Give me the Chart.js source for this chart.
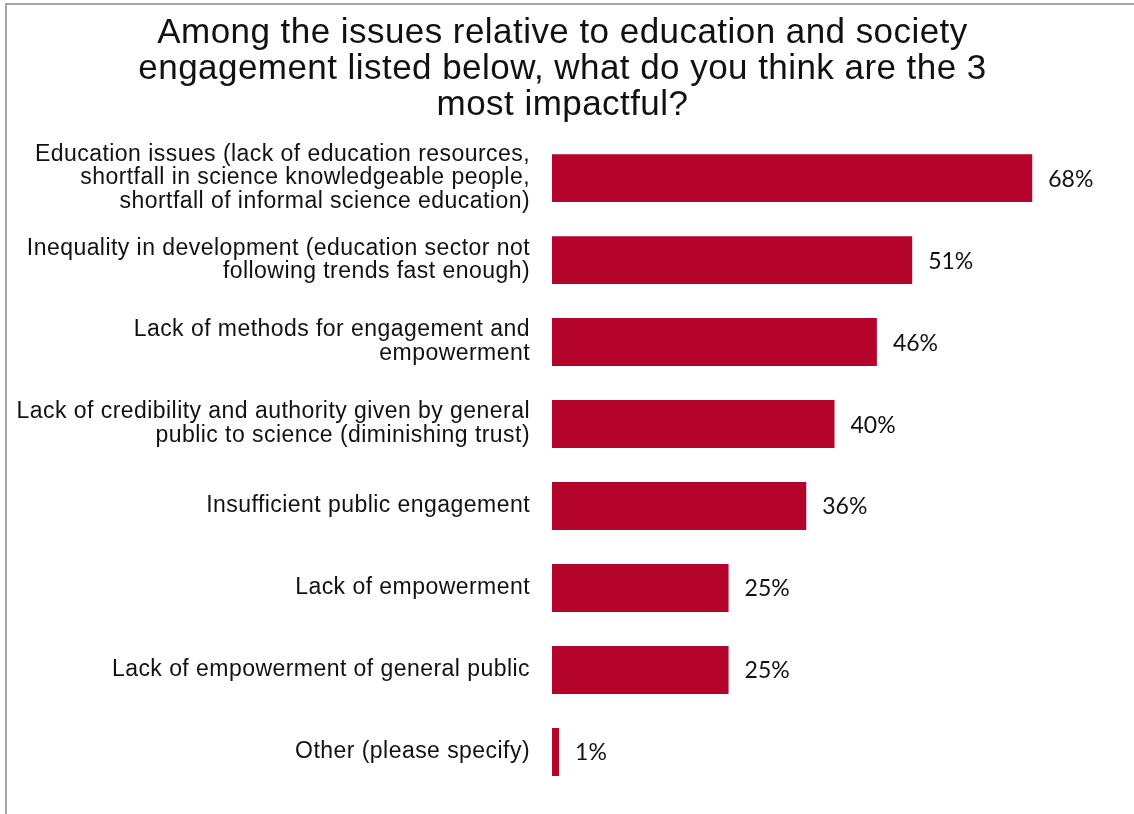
<!DOCTYPE html>
<html>
<head>
<meta charset="utf-8">
<script src="https://cdn.jsdelivr.net/npm/chart.js@4/dist/chart.umd.min.js"></script>
<style>
  html, body { margin: 0; padding: 0; background: #fff; }
  #wrap { width: 1134px; height: 814px; position: relative; }
</style>
</head>
<body>
<div id="wrap"><canvas id="chart" width="1134" height="814"></canvas></div>
<script>
// Survey question and answer options
const titleLines = [
  "Among the issues relative to education and society",
  "engagement listed below, what do you think are the 3",
  "most impactful?"
];

const issues = [
  ["Education issues (lack of education resources,", "shortfall in science knowledgeable people,", "shortfall of informal science education)"],
  ["Inequality in development (education sector not", "following trends fast enough)"],
  ["Lack of methods for engagement and", "empowerment"],
  ["Lack of credibility and authority given by general", "public to science (diminishing trust)"],
  "Insufficient public engagement",
  "Lack of empowerment",
  "Lack of empowerment of general public",
  "Other (please specify)"
];

// Share of respondents choosing each issue (%)
const shares = [68, 51, 46, 40, 36, 25, 25, 1];

const barColor = "#B4042B";
const textColor = "#111111";

// Slightly wider tracking for title and category text
const tracking = {
  id: "tracking",
  beforeUpdate(chart) { chart.ctx.letterSpacing = "0.45px"; },
  beforeDraw(chart) { chart.ctx.letterSpacing = "0.45px"; }
};

// Thin grey frame along the top and left edges
const framePlugin = {
  id: "frame",
  beforeDraw(chart) {
    const ctx = chart.ctx;
    ctx.save();
    ctx.strokeStyle = "#a6a6a6";
    ctx.lineWidth = 2;
    ctx.beginPath();
    ctx.moveTo(6, chart.height);
    ctx.lineTo(6, 4);
    ctx.lineTo(chart.width, 4);
    ctx.stroke();
    ctx.restore();
  }
};

// Percentage labels to the right of each bar
const valueLabels = {
  id: "valueLabels",
  afterDatasetsDraw(chart) {
    const ctx = chart.ctx;
    const meta = chart.getDatasetMeta(0);
    ctx.save();
    ctx.letterSpacing = "0px";
    ctx.font = "23px Lato, 'Open Sans', sans-serif";
    ctx.fillStyle = textColor;
    ctx.textAlign = "left";
    ctx.textBaseline = "middle";
    meta.data.forEach((bar, i) => {
      ctx.fillText(shares[i] + "%", bar.x + 16, bar.y + 1);
    });
    ctx.restore();
  }
};

new Chart(document.getElementById("chart"), {
  type: "bar",
  data: {
    labels: issues,
    datasets: [{
      data: shares,
      backgroundColor: barColor,
      borderWidth: 0,
      categoryPercentage: 1,
      barPercentage: 0.585
    }]
  },
  options: {
    indexAxis: "y",
    responsive: false,
    animation: false,
    devicePixelRatio: 1,
    layout: { padding: { left: 8, right: 17, top: 0, bottom: 21 } },
    plugins: {
      legend: { display: false },
      tooltip: { enabled: false },
      title: {
        display: true,
        text: titleLines,
        color: textColor,
        font: { family: "'Liberation Sans', Arial, sans-serif", size: 35, weight: "normal", lineHeight: 1.03 },
        padding: { top: 15, bottom: 14 }
      }
    },
    scales: {
      x: {
        display: false,
        min: 0,
        max: 80
      },
      y: {
        grid: { display: false, drawTicks: false },
        border: { display: false },
        ticks: {
          color: textColor,
          padding: 22,
          font: { family: "'Liberation Sans', Arial, sans-serif", size: 23, lineHeight: 1.04 }
        },
        afterFit(scale) {
          scale.width = 544;
          // keep multi-line labels from shrinking the plot area
          scale.paddingTop = 0;
          scale.paddingBottom = 0;
        }
      }
    }
  },
  plugins: [tracking, framePlugin, valueLabels]
});
</script>
</body>
</html>
